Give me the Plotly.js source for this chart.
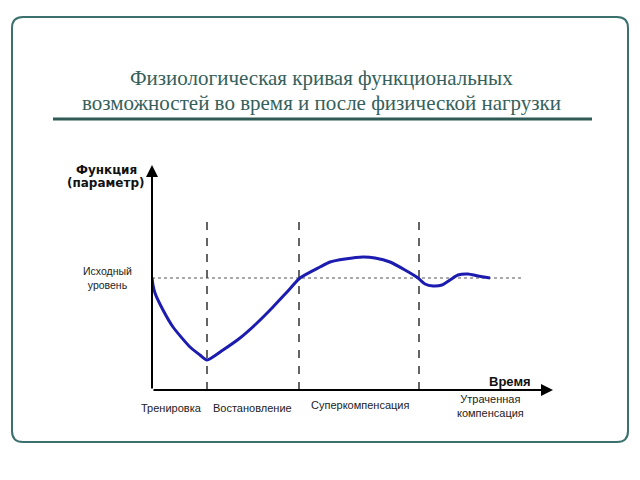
<!DOCTYPE html>
<html>
<head>
<meta charset="utf-8">
<script src="https://cdn.plot.ly/plotly-3.0.1.min.js"></script>
<style>html,body{margin:0;padding:0;background:#fff;}#chart{width:640px;height:480px;}</style>
</head>
<body>
<div id="chart"></div>
<script>
// ---- data (time units, function units) ----
var timeValues = [0, 1, 3, 11, 21, 38, 48, 55, 71, 88, 105, 121, 135, 148, 168, 178, 193, 211, 223, 238, 253, 266, 273, 281, 290, 298, 306, 316, 326, 338];
var funcValues = [112, 105, 97, 80, 63, 43, 35, 30, 40, 52, 67, 83, 98, 112, 123, 128, 131, 133, 132, 128, 120, 112, 106, 104, 105, 110, 115, 116, 114, 112];
var baselineLevel = 112;
var phaseBounds = [55, 147, 267];
var phaseLabels = ["Тренировка", "Востановление", "Суперкомпенсация", "Утраченная<br>компенсация"];
var phaseLabelPos = [19, 100, 208, 338];
var titleLines = ["Физиологическая кривая функциональных", "возможностей во время и после физической нагрузки"];
var yAxisLabelLines = ["Функция", "(параметр)"];
var baselineLabel = "Исходный<br>уровень";
var xAxisLabel = "Время";

// ---- layout geometry ----
var W = 640, H = 480, mL = 152, mR = 88, mT = 165, mB = 90;
var xMax = 400, yMax = 225;
var pw = W - mL - mR, ph = H - mT - mB;
function px2paperX(px) { return (px - mL) / pw; }
function py2paperY(py) { return (H - mB - py) / ph; }
function dx2paper(v) { return v / xMax; }
function dy2paper(v) { return v / yMax; }

function roundRect(x0, y0, x1, y1, r) {
  var X = px2paperX, Y = py2paperY;
  return 'M' + X(x0 + r) + ',' + Y(y0) +
    ' L' + X(x1 - r) + ',' + Y(y0) +
    ' Q' + X(x1) + ',' + Y(y0) + ' ' + X(x1) + ',' + Y(y0 + r) +
    ' L' + X(x1) + ',' + Y(y1 - r) +
    ' Q' + X(x1) + ',' + Y(y1) + ' ' + X(x1 - r) + ',' + Y(y1) +
    ' L' + X(x0 + r) + ',' + Y(y1) +
    ' Q' + X(x0) + ',' + Y(y1) + ' ' + X(x0) + ',' + Y(y1 - r) +
    ' L' + X(x0) + ',' + Y(y0 + r) +
    ' Q' + X(x0) + ',' + Y(y0) + ' ' + X(x0 + r) + ',' + Y(y0) + ' Z';
}

var shapes = [
  {type: 'path', xref: 'paper', yref: 'paper', path: roundRect(12, 17, 628, 442, 11),
   line: {color: '#3b706c', width: 2}},
  {type: 'line', xref: 'paper', yref: 'paper', x0: px2paperX(53), x1: px2paperX(592),
   y0: py2paperY(119), y1: py2paperY(119), line: {color: '#2f5a55', width: 3}},
  {type: 'line', xref: 'x', yref: 'y', x0: 0, x1: 370, y0: baselineLevel, y1: baselineLevel,
   line: {color: '#555', width: 1, dash: '3px,3px'}, layer: 'below'}
];
phaseBounds.forEach(function (b) {
  shapes.push({type: 'line', xref: 'x', yref: 'y', x0: b, x1: b, y0: 0, y1: 173,
    line: {color: '#333', width: 1.5, dash: '8px,8px'}, layer: 'below'});
});

var sans = 'Liberation Sans, Arial, sans-serif';
var serif = 'Liberation Serif, Times New Roman, serif';
var labelFont = {family: sans, size: 11, color: '#222'};
var annotations = [
  // axes arrows
  {x: xMax + 1, y: 0, ax: 0, ay: 0, xref: 'x', yref: 'y', axref: 'x', ayref: 'y', text: '',
   showarrow: true, arrowhead: 2, arrowsize: 1.2, arrowwidth: 2, arrowcolor: '#000', standoff: 0},
  {x: 0, y: yMax, ax: 0, ay: 0, xref: 'x', yref: 'y', axref: 'x', ayref: 'y', text: '',
   showarrow: true, arrowhead: 2, arrowsize: 1.2, arrowwidth: 2, arrowcolor: '#000', standoff: 0},
  {x: dx2paper(-45), y: dy2paper(baselineLevel), xref: 'paper', yref: 'paper', text: baselineLabel, showarrow: false,
   font: {family: sans, size: 10.5, color: '#222'}, xanchor: 'center', yanchor: 'middle'},
  {x: dx2paper(358), y: dy2paper(9), xref: 'paper', yref: 'paper', text: '<b>' + xAxisLabel + '</b>', showarrow: false,
   font: {family: sans, size: 13, color: '#111'}, xanchor: 'center', yanchor: 'middle'}
];
var yLabY = [170, 183];
yAxisLabelLines.forEach(function (t, i) {
  annotations.push({x: px2paperX(106), y: py2paperY(yLabY[i]), xref: 'paper', yref: 'paper', text: '<b>' + t + '</b>',
    showarrow: false, xanchor: 'center', yanchor: 'middle',
    font: {family: 'DejaVu Sans, Verdana, sans-serif', size: 12, color: '#111'}});
});
var titleY = [78, 103];
titleLines.forEach(function (t, i) {
  annotations.push({x: px2paperX(321), y: py2paperY(titleY[i]), xref: 'paper', yref: 'paper', text: t,
    showarrow: false, xanchor: 'center', yanchor: 'middle',
    font: {family: serif, size: 21, color: '#35605b'}});
});
phaseLabels.forEach(function (lab, i) {
  annotations.push({x: dx2paper(phaseLabelPos[i]), y: dy2paper(i === 3 ? -16 : (i === 2 ? -15 : -18)),
    xref: 'paper', yref: 'paper', text: lab,
    showarrow: false, font: labelFont, xanchor: 'center', yanchor: 'middle'});
});

var trace = {
  x: timeValues, y: funcValues, type: 'scatter', mode: 'lines',
  line: {color: '#1c1cb0', width: 3, shape: 'spline', smoothing: 0.6},
  hoverinfo: 'skip', cliponaxis: false
};

var layout = {
  width: W, height: H,
  margin: {l: mL, r: mR, t: mT, b: mB, pad: 0},
  paper_bgcolor: '#fff', plot_bgcolor: 'rgba(0,0,0,0)',
  showlegend: false,
  xaxis: {range: [0, xMax], visible: false, fixedrange: true},
  yaxis: {range: [0, yMax], visible: false, fixedrange: true},
  shapes: shapes,
  annotations: annotations
};

Plotly.newPlot('chart', [trace], layout, {displayModeBar: false, staticPlot: true});
</script>
</body>
</html>
